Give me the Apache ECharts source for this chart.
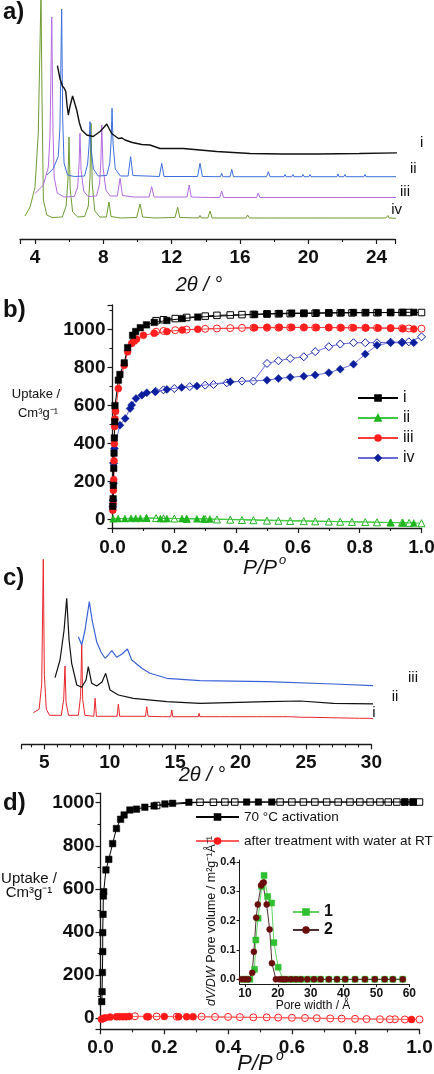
<!DOCTYPE html>
<html><head><meta charset="utf-8">
<script src="https://cdn.jsdelivr.net/npm/echarts@6/dist/echarts.min.js"></script>
<style>html,body{margin:0;padding:0;background:#fff}.pane{position:absolute;left:0;top:0;width:434px;height:1074px}#log{position:absolute;left:0;top:0;font:11px monospace;color:red;white-space:pre-wrap;width:434px;z-index:99}</style>
</head><body><div id="p0" class="pane"></div><div id="p1" class="pane"></div><div id="p2" class="pane"></div><div id="p3" class="pane"></div><div id="log"></div>
<script>
// ---------- Panel a: PXRD (2θ in degrees, intensity in arbitrary units) ----------
const aTraceI = [[5.31,173.3],[5.46,160.5],[5.6,153],[5.72,150.5],[5.8,147.5],[5.88,133],[5.95,124],[6.05,133],[6.2,143],[6.27,144],[6.44,129],[6.6,116],[6.73,109],[7.03,104],[7.41,102.5],[7.81,107.5],[8.05,112],[8.2,115],[8.35,110],[8.49,105.5],[8.88,100.5],[9.1,101],[9.17,103],[9.27,99],[9.7,96.5],[10.25,94.5],[10.73,94],[11.32,90.5],[12.68,90.5],[14.64,87.5],[16.59,85.5],[18.5,85],[20.49,85],[23,85.5],[26.35,86.5],[27.32,86.3]];
const aTraceII = [[4.69,64],[5.07,70.5],[5.36,82.5],[5.46,112],[5.56,230],[5.62,120],[5.7,76],[5.9,64],[6.3,62.5],[6.9,63],[7.08,75],[7.17,95],[7.22,117.3],[7.28,90],[7.42,70],[7.7,63],[8.2,63.5],[8.38,76],[8.46,100],[8.51,130.7],[8.57,95],[8.7,70],[9.0,63],[9.45,63],[9.6,82.3],[9.73,63.5],[11.28,62.5],[11.42,75.7],[11.55,62.5],[13.52,62.5],[13.66,75.7],[13.8,62.5],[14.86,62.3],[14.93,65.7],[15.0,62.3],[15.42,62.3],[15.52,69.7],[15.62,62.3],[17.56,62.3],[17.66,67.3],[17.76,62.3],[18.58,62.3],[18.64,64.5],[18.7,62.3],[19.04,62.3],[19.1,64.5],[19.16,62.3],[19.63,62.3],[19.69,64.5],[19.75,62.3],[20.04,62.3],[20.1,64.5],[20.16,62.3],[21.68,62.3],[21.74,65],[21.8,62.3],[22.09,62.3],[22.15,64.5],[22.21,62.3],[23.26,62.3],[23.32,64.5],[23.38,62.3],[25.9,62.3],[25.96,66.3],[26.02,62.3],[26.64,62]];
const aTraceIII = [[4.0,45.5],[4.49,54],[4.78,72],[4.88,105],[4.98,222],[5.05,110],[5.12,62],[5.3,46],[5.7,42],[6.3,42.5],[6.5,52],[6.58,75],[6.63,105.7],[6.7,68],[6.85,48],[7.1,42.5],[7.6,43],[7.78,55],[7.86,80],[7.91,114],[7.98,72],[8.15,49],[8.4,43],[8.82,43],[8.98,60.7],[9.12,43.5],[9.8,42],[10.68,42],[10.83,52.3],[10.97,42],[12.9,42],[13.03,54],[13.15,42],[14.23,41.5],[14.3,43.5],[14.37,41.5],[14.82,41.5],[14.93,48],[15.04,41.5],[16.97,41.5],[17.07,45.7],[17.17,41.5],[17.99,41.5],[18.05,43],[18.11,41.5],[18.46,41.5],[18.52,43],[18.58,41.5],[19.34,41.5],[19.4,43],[19.46,41.5],[21.09,41.5],[21.15,43],[21.21,41.5],[21.62,41.5],[21.68,43],[21.74,41.5],[21.97,41.5],[22.03,43],[22.09,41.5],[22.56,41.5],[22.62,43],[22.68,41.5],[25.49,41.5],[25.55,43.5],[25.61,41.5],[25.96,41]];
const aTraceIV = [[3.41,23],[3.71,32],[4.0,52],[4.19,106],[4.35,245],[4.41,139],[4.49,39],[4.69,24],[5.0,21.5],[5.6,22],[5.82,33],[5.93,60],[5.99,102],[6.06,50],[6.2,27],[6.5,22],[6.9,22.5],[7.12,33],[7.22,62],[7.28,116],[7.35,55],[7.5,28],[7.8,22],[8.18,22],[8.33,37],[8.45,22.5],[9.0,21],[9.95,21.5],[10.15,35],[10.3,22],[11.0,21],[12.2,21.5],[12.35,31.7],[12.48,21.5],[13.58,21],[13.66,23.5],[13.74,21],[14.12,21],[14.25,28],[14.37,21],[16.35,21],[16.45,24],[16.55,21],[17.4,21],[17.47,22.5],[17.54,21],[18.28,21],[18.34,22.5],[18.4,21],[18.7,21],[18.75,22.5],[18.8,21],[20.45,21],[20.51,23],[20.57,21],[20.8,21],[20.86,22.5],[20.92,21],[21.97,21],[22.03,22.5],[22.09,21],[23.14,21],[23.2,22],[23.26,21],[24.54,21],[24.6,23],[24.67,23.5],[24.73,21],[25.37,20.5]];

// ---------- Panel b: N2 isotherms (P/P0, uptake cm3/g) ----------
const bIAds = [[0.001,70],[0.002,110],[0.003,180],[0.004,270],[0.005,350],[0.006,430],[0.007,515],[0.008,600],[0.019,734],[0.024,764],[0.038,825],[0.049,905],[0.065,970],[0.075,990],[0.09,1010],[0.11,1025],[0.135,1038],[0.176,1048],[0.226,1058],[0.276,1066],[0.46,1080],[0.5,1083],[0.54,1085],[0.58,1087],[0.62,1087],[0.66,1088],[0.7,1089],[0.74,1089],[0.78,1090],[0.82,1090],[0.86,1090],[0.9,1090],[0.94,1091],[0.975,1091]];
const bIDes = [[1.0,1090],[0.959,1090],[0.937,1090],[0.9,1090],[0.856,1089],[0.818,1089],[0.775,1088],[0.737,1088],[0.7,1087],[0.656,1086],[0.619,1085],[0.575,1084],[0.537,1083],[0.5,1082],[0.456,1080],[0.419,1079],[0.381,1077],[0.338,1075],[0.3,1071],[0.24,1064],[0.203,1058],[0.165,1052],[0.141,1047]];
const bIIAds = [[0.002,5],[0.018,6],[0.04,6],[0.06,7],[0.075,7],[0.09,7],[0.11,8],[0.155,6],[0.176,6],[0.225,6],[0.24,5],[0.273,5],[0.295,5],[0.315,4],[0.9,-15],[0.94,-16],[0.975,-18]];
const bIIDes = [[1.0,-19],[0.96,-17],[0.937,-16],[0.9,-15],[0.856,-14],[0.818,-13],[0.775,-12],[0.737,-11],[0.7,-10],[0.656,-9],[0.619,-8],[0.575,-7],[0.537,-6],[0.5,-5],[0.456,-3],[0.419,-2],[0.381,0],[0.338,1],[0.3,3],[0.24,4],[0.2,6],[0.165,7],[0.141,8],[0.11,9]];
const bIIIAds = [[0.001,50],[0.002,85],[0.003,155],[0.004,210],[0.005,310],[0.006,400],[0.007,490],[0.008,530],[0.01,570],[0.019,690],[0.038,813],[0.049,883],[0.062,927],[0.071,940],[0.078,950],[0.1,970],[0.135,981],[0.176,990],[0.226,998],[0.276,1002],[0.46,1010],[0.5,1012],[0.54,1012],[0.58,1012],[0.62,1012],[0.66,1011],[0.7,1011],[0.74,1010],[0.78,1010],[0.82,1009],[0.86,1008],[0.9,1007],[0.94,1005],[0.975,1003]];
const bIIIDes = [[1.0,1005],[0.959,1006],[0.937,1007],[0.9,1008],[0.856,1009],[0.818,1010],[0.775,1010],[0.737,1010],[0.7,1011],[0.656,1011],[0.619,1011],[0.575,1011],[0.537,1010],[0.5,1010],[0.456,1010],[0.419,1009],[0.381,1008],[0.338,1006],[0.3,1004],[0.24,1000],[0.203,997],[0.165,993],[0.141,989]];
const bIVAds = [[0.001,68],[0.002,103],[0.003,191],[0.004,296],[0.006,375],[0.024,497],[0.041,532],[0.057,585],[0.062,603],[0.076,638],[0.095,655],[0.111,668],[0.138,673],[0.176,685],[0.224,696],[0.273,703],[0.381,725],[0.5,734],[0.537,743],[0.575,749],[0.619,755],[0.656,761],[0.7,773],[0.737,792],[0.78,818],[0.818,871],[0.856,918],[0.9,931],[0.937,931],[0.975,931]];
const bIVDes = [[1.0,962],[0.959,936],[0.937,934],[0.9,934],[0.856,931],[0.818,931],[0.78,931],[0.737,924],[0.7,910],[0.656,884],[0.619,857],[0.575,848],[0.537,836],[0.5,822],[0.456,729],[0.419,729],[0.37,720],[0.327,711],[0.3,708],[0.25,700],[0.2,690],[0.165,683],[0.14,675]];

// ---------- Panel c: PXRD ----------
const cTraceI = [[4.16,31.6],[4.6,35],[4.8,60],[4.92,185],[5.0,70],[5.15,35],[5.4,29],[6.3,29],[6.48,45],[6.58,78.3],[6.66,42],[6.85,29],[7.6,29],[7.77,48],[7.86,99.3],[7.93,45],[8.1,29],[8.78,28],[8.88,46],[8.98,28],[10.56,28],[10.66,40.3],[10.76,28],[12.73,28],[12.83,37.6],[12.93,28],[14.04,27.6],[14.1,29.3],[14.16,27.6],[14.66,27.6],[14.74,34.3],[14.82,27.6],[16.77,27.6],[16.83,31],[16.89,27.6],[17.24,27.6],[17.29,29.5],[17.34,27.6],[17.75,27.6],[17.8,29.5],[17.85,27.6],[18.38,27.6],[18.43,29.5],[18.48,27.6],[19.15,27.6],[19.2,29.5],[19.25,27.6],[20.81,27.6],[20.86,29.5],[20.91,27.6],[21.19,27.6],[21.24,29.5],[21.29,27.6],[21.69,27.6],[21.74,29.5],[21.79,27.6],[22.26,27.6],[22.31,29.5],[22.36,27.6],[23.22,27.6],[23.27,29.5],[23.32,27.6],[23.73,27.6],[23.78,29.5],[23.83,27.6],[24.75,27],[24.8,29],[24.85,27],[25.39,27],[25.44,29],[25.49,27],[29.09,26],[29.14,28],[29.19,26],[29.6,26],[29.65,28],[29.7,26],[29.85,26],[29.9,28],[30.41,25]];
const cTraceII = [[5.82,66.6],[6.2,84.3],[6.51,114.3],[6.71,146],[6.89,104.3],[7.09,81],[7.48,59.3],[7.86,57],[8.19,64.3],[8.36,77.6],[8.62,61],[9.0,58.3],[9.41,62.3],[9.69,71],[10.02,54.3],[10.66,49.3],[11.8,46],[14.36,42.6],[16.9,41],[22.0,42.6],[24.55,43.3],[27.1,41],[32.06,40]];
const cTraceIII = [[7.6,107.6],[7.86,99.3],[8.11,114.3],[8.44,142.6],[8.65,124.3],[9.0,102.6],[9.33,92.3],[9.64,86],[9.89,89.3],[10.15,93.6],[10.54,87],[10.94,90.3],[11.35,95.3],[11.68,84.3],[12.45,76],[13.08,71],[14.36,66],[16.9,63.6],[22.0,62.6],[27.1,60.3],[33.85,56.6]];

// ---------- Panel d: isotherms ----------
const dActAds = [[0.004,77],[0.005,123],[0.006,212],[0.007,309],[0.007,397],[0.008,482],[0.009,567],[0.01,587],[0.017,688],[0.026,737],[0.038,810],[0.05,880],[0.063,923],[0.074,943],[0.092,966],[0.113,970],[0.139,979],[0.168,985],[0.202,994],[0.226,997],[0.277,1002],[0.458,1003],[0.495,1003],[0.537,1003],[0.954,1003],[0.98,1003]];
const dActDes = [[1.0,1003],[0.98,1003],[0.954,1003],[0.929,1003],[0.902,1003],[0.876,1003],[0.845,1003],[0.813,1003],[0.782,1003],[0.745,1003],[0.709,1003],[0.672,1003],[0.636,1003],[0.6,1003],[0.563,1003],[0.421,1003],[0.39,1003],[0.354,1002],[0.312,1002],[0.176,987]];
const dWaterAds = [[0.003,-5],[0.008,-1],[0.015,2],[0.03,5],[0.05,7],[0.06,7],[0.07,7],[0.08,7],[0.09,8],[0.145,7],[0.15,7],[0.2,8],[0.245,7],[0.27,7],[0.29,7],[0.975,-6]];
const dWaterDes = [[1.0,-6],[0.954,-6],[0.923,-5],[0.907,-5],[0.876,-5],[0.834,-4],[0.798,-3],[0.756,-2],[0.72,-1],[0.678,0],[0.641,1],[0.6,2],[0.557,3],[0.521,4],[0.479,4],[0.437,5],[0.4,6],[0.359,6],[0.317,7],[0.239,7],[0.176,8],[0.108,9]];

// ---------- Inset: pore size distribution ----------
const ins1 = [[9.5,0],[10.5,0],[11.5,0],[12.9,0.034],[13.3,0.134],[14.0,0.208],[15.1,0.316],[15.8,0.354],[16.9,0.282],[18.1,0.26],[18.8,0.125],[20.1,0.041],[21.6,0],[22.5,0],[24,0],[25.5,0],[27,0],[29,0],[31,0],[33,0],[35.5,0],[38,0],[40.5,0],[43.5,0],[46.5,0],[49.5,0],[52.5,0],[55,0],[58,0]];
const ins2 = [[9,0],[10,0],[11,0],[12.2,0.022],[12.7,0.094],[13.4,0.21],[13.9,0.255],[14.9,0.32],[15.4,0.328],[15.7,0.33],[16.6,0.255],[17.5,0.17],[18.2,0.055],[19.4,0],[20.5,0],[21.5,0],[22.5,0],[24,0],[25.5,0],[27,0],[29,0],[31,0],[33,0],[35.5,0],[38,0],[40.5,0],[43.5,0],[46.5,0],[49.5,0],[52.5,0],[55,0],[58,0]];

const FONT = "'Liberation Sans', Arial, sans-serif";
const AX = '#1a1a1a';
const logEl = document.getElementById('log');
function log(s) { logEl.textContent += s + '\n'; }

// value axis whose ticks sit on multiples of `step` while the ends are free
function vAxis(gridIndex, min, max, step, position, o) {
  o = o || {};
  return {
    type: 'value', gridIndex, min, max, minInterval: step, maxInterval: step, position,
    splitLine: {show: false},
    axisLine: {show: true, onZero: false, lineStyle: {color: AX, width: o.lw || 1.3}},
    axisTick: {show: true, inside: false, length: o.tl || 5, lineStyle: {color: AX, width: o.lw || 1.2}},
    minorTick: {show: o.minor !== false, splitNumber: o.minor || 2, length: o.ml || 3, lineStyle: {color: AX, width: 1.1}},
    axisLabel: {show: true, showMinLabel: !!o.showMin, showMaxLabel: !!o.showMax, color: '#111', fontFamily: FONT, fontWeight: 'bold',
      fontSize: o.fs || 19, margin: o.margin == null ? 8 : o.margin, formatter: o.fmt || (v => String(v))},
    axisPointer: {show: false}
  };
}
function hidden(gridIndex, min, max) { return {type: 'value', gridIndex, min, max, show: false}; }
function xrd(name, data, color, width) {
  return {type: 'line', name, data, symbol: 'none', showSymbol: false, lineStyle: {color, width}, clip: false, silent: true, z: 3};
}
function iso(name, data, color, lineColor, symbol, size, open, lw) {
  return {type: 'line', name, data, symbol, symbolSize: size, showSymbol: true,
    lineStyle: {color: lineColor, width: lw || 1},
    itemStyle: {color: open ? '#ffffff' : color, borderColor: color, borderWidth: open ? 1 : 0.5},
    clip: false, silent: true, z: open ? 3 : 4};
}
function txt(x, y, text, size, opts) {
  opts = opts || {};
  return {type: 'text', x, y, rotation: opts.rot || 0, z: 50,
    style: {text, fontFamily: FONT, fontSize: size, fontWeight: opts.bold ? 'bold' : 'normal',
      fontStyle: opts.italic ? 'italic' : 'normal', fill: opts.color || '#111',
      align: opts.align || 'center', verticalAlign: 'middle', textAlign: opts.align || 'center', textVerticalAlign: 'middle', rich: opts.rich}};
}
const f1 = v => v.toFixed(1);
const G = (left, top, width, height) => ({left, top, width, height, containLabel: false, outerBoundsMode: 'none'});

const optA = {
  animation: false, textStyle: {fontFamily: FONT},
  grid: [G(20, 0, 375, 239)],
  xAxis: [vAxis(0, 3.12, 25.08, 4, 'bottom', {margin: 9})],
  yAxis: [hidden(0, 0, 239)],
  series: [xrd('a-iv', aTraceIV, '#6f9b33', 1), xrd('a-iii', aTraceIII, '#b36be0', 1), xrd('a-ii', aTraceII, '#3d6fdc', 1), xrd('a-i', aTraceI, '#111111', 1.4)],
  graphic: [
    txt(3, 12, 'a)', 24, {bold: true, align: 'left'}),
    txt(199, 285, '2θ / °', 20, {italic: true}),
    txt(421.7, 143, 'i', 15), txt(413.3, 168.5, 'ii', 15), txt(405, 191.5, 'iii', 15), txt(396.7, 210, 'iv', 15)
  ]
};
const optB = {
  animation: false, textStyle: {fontFamily: FONT},
  grid: [G(112.5, 305, 309, 223)],
  xAxis: [vAxis(0, 0, 1, 0.2, 'bottom', {margin: 10, fmt: f1, showMin: true, showMax: true})],
  yAxis: [vAxis(0, -44, 1129.5, 200, 'left', {margin: 7})],
  legend: {data: ['i', 'ii', 'iii', 'iv'], orient: 'vertical', left: 352, top: 385, itemWidth: 40, itemHeight: 7, itemGap: 4, selectedMode: false,
    textStyle: {fontSize: 16, color: '#111', fontFamily: FONT}},
  series: [
    iso('ii', bIIAds, '#1fb51f', '#3fc83f', 'triangle', 7, false),
    iso('ii-des', bIIDes, '#1fb51f', '#3fc83f', 'triangle', 7, true),
    iso('iv', bIVAds, '#0b1f9e', '#6a6ad6', 'diamond', 8, false),
    iso('iv-des', bIVDes, '#0b1f9e', '#6a6ad6', 'diamond', 8, true),
    iso('iii', bIIIAds, '#ff1f1f', '#ff3b3b', 'circle', 7, false),
    iso('iii-des', bIIIDes, '#ff1f1f', '#ff3b3b', 'circle', 7, true),
    iso('i', bIAds, '#000000', '#000000', 'rect', 6.5, false),
    iso('i-des', bIDes, '#000000', '#000000', 'rect', 6.5, true)
  ],
  graphic: [
    txt(3, 310, 'b)', 24, {bold: true, align: 'left'}),
    txt(36, 394, 'Uptake /', 13), txt(38, 413, 'Cm³g⁻¹', 13),
    txt(260, 568, 'P/P', 21, {italic: true}), txt(282.5, 560, 'o', 13, {italic: true})
  ]
};
const optC = {
  animation: false, textStyle: {fontFamily: FONT},
  grid: [G(21.7, 555, 349.7, 189.3)],
  xAxis: [vAxis(0, 3.27, 30, 5, 'bottom', {margin: 9, minor: 5, showMax: true})],
  yAxis: [hidden(0, 0, 189.3)],
  series: [xrd('c-i', cTraceI, '#e8262b', 1), xrd('c-ii', cTraceII, '#111111', 1.2), xrd('c-iii', cTraceIII, '#3a62d8', 1.2)],
  graphic: [
    txt(3, 578, 'c)', 24, {bold: true, align: 'left'}),
    txt(374, 713, 'i', 15), txt(395, 697, 'ii', 15), txt(413, 678, 'iii', 15),
    txt(202, 775, '2θ / °', 20, {italic: true})
  ]
};
const optD = {
  animation: false, textStyle: {fontFamily: FONT},
  grid: [G(100.5, 793.2, 319, 236.1), G(239.5, 860, 169.8, 124)],
  xAxis: [vAxis(0, 0, 1, 0.2, 'bottom', {margin: 9, fmt: f1, showMin: true, showMax: true}),
          vAxis(1, 8.33, 60, 10, 'bottom', {fs: 12, margin: 4, tl: 3, lw: 1, minor: false, showMax: true})],
  yAxis: [vAxis(0, -51.5, 1044, 200, 'left', {margin: 6}),
          vAxis(1, -0.016, 0.4065, 0.1, 'left', {fs: 11, margin: 4, tl: 3, lw: 1, minor: false, fmt: f1})],
  legend: [
    {data: ['70 °C activation', 'after treatment with water at RT'], orient: 'vertical', left: 190, top: 805, itemWidth: 43, itemHeight: 7, itemGap: 10, selectedMode: false,
      textStyle: {fontSize: 13.5, color: '#111', fontFamily: FONT}},
    {data: ['1', '2'], orient: 'vertical', left: 287, top: 899, itemWidth: 26, itemHeight: 7, itemGap: 2, selectedMode: false,
      textStyle: {fontSize: 16, fontWeight: 'bold', color: '#111', fontFamily: FONT}}
  ],
  series: [
    Object.assign(iso('after treatment with water at RT', dWaterAds, '#ff1a1a', '#ff5c5c', 'circle', 7, false), {xAxisIndex: 0, yAxisIndex: 0}),
    Object.assign(iso('water-des', dWaterDes, '#ff1a1a', '#ff5c5c', 'circle', 7, true), {xAxisIndex: 0, yAxisIndex: 0}),
    Object.assign(iso('70 °C activation', dActAds, '#000000', '#000000', 'rect', 6.5, false), {xAxisIndex: 0, yAxisIndex: 0}),
    Object.assign(iso('act-des', dActDes, '#000000', '#000000', 'rect', 6.5, true), {xAxisIndex: 0, yAxisIndex: 0}),
    Object.assign(iso('1', ins1, '#2fbf2f', '#5fd35f', 'rect', 6, false), {xAxisIndex: 1, yAxisIndex: 1}),
    Object.assign(iso('2', ins2, '#6b0d0d', '#4a3030', 'circle', 6, false), {xAxisIndex: 1, yAxisIndex: 1})
  ],
  graphic: [
    txt(3, 803, 'd)', 24, {bold: true, align: 'left'}),
    txt(29, 879, 'Uptake /', 15), txt(29, 893, 'Cm³g⁻¹', 15),
    txt(255, 1064, 'P/P', 22, {italic: true}), txt(280, 1056, 'o', 14, {italic: true}),
    txt(313, 1006, 'Pore width / Å', 12),
    txt(212, 921, '{i|dV/DW} Pore volume / m²g⁻¹Å⁻¹', 12.5, {rot: Math.PI / 2, rich: {i: {fontStyle: 'italic', fontFamily: FONT, fontSize: 12.5}}})
  ]
};
[optA, optB, optC, optD].forEach((opt, i) => {
  try {
    const ch = echarts.init(document.getElementById('p' + i), null, {renderer: 'canvas', width: 434, height: 1074});
    ch.setOption(opt);
  } catch (e) {
    log('panel ' + i + ': ' + e.message);
  }
});
</script></body></html>
